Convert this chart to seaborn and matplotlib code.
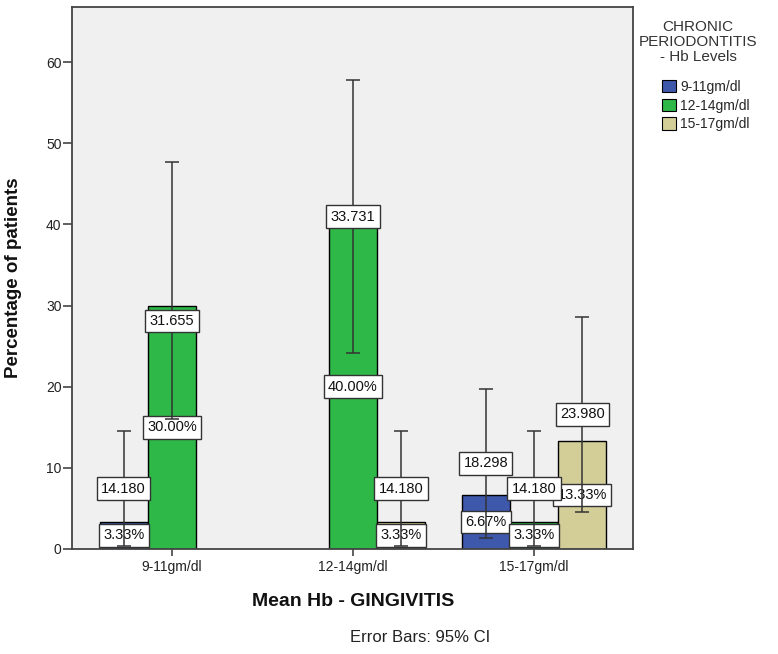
import pandas as pd
import matplotlib
matplotlib.use("Agg")
import matplotlib.pyplot as plt
import seaborn as sns
from matplotlib.patches import Patch

# --- data ---
levels = ["9-11gm/dl", "12-14gm/dl", "15-17gm/dl"]
gingivitis = ["9-11gm/dl", "9-11gm/dl", "12-14gm/dl", "12-14gm/dl",
              "15-17gm/dl", "15-17gm/dl", "15-17gm/dl"]
periodontitis = ["9-11gm/dl", "12-14gm/dl", "12-14gm/dl", "15-17gm/dl",
                 "9-11gm/dl", "12-14gm/dl", "15-17gm/dl"]
percent = [3.33, 30.00, 40.00, 3.33, 6.67, 3.33, 13.33]
ci_low = [0.35, 16.03, 24.10, 0.35, 1.40, 0.35, 4.62]
ci_high = [14.53, 47.68, 57.83, 14.53, 19.70, 14.53, 28.60]
ci_label = ["14.180", "31.655", "33.731", "14.180", "18.298", "14.180", "23.980"]

colors = ["#3E58AC", "#2EB848", "#D3CE98"]

sns.set_style("white")
plt.rcParams['font.family'] = ['Liberation Sans', 'DejaVu Sans']

df = pd.DataFrame({"gingivitis": gingivitis, "periodontitis": periodontitis,
                   "percent": percent, "low": ci_low, "high": ci_high,
                   "label": ci_label})

fig = plt.figure(figsize=(7.78, 6.54), dpi=100)
ax = fig.add_axes([72 / 778, 1 - 549 / 654, 561 / 778, 542 / 654])
ax.set_facecolor("#F0F0F0")

sns.barplot(data=df, x="gingivitis", y="percent", hue="periodontitis",
            order=levels, hue_order=levels, palette=colors, saturation=1,
            errorbar=None, width=0.8, edgecolor="black", linewidth=1,
            legend=False, ax=ax, zorder=2)

box_kw = dict(boxstyle="square,pad=0.3", facecolor="white", edgecolor="#333333", linewidth=1)

# bars of each hue level come in category order
for hue, cont in zip(levels, ax.containers):
    sub = df[df["periodontitis"] == hue].copy()
    sub["pos"] = sub["gingivitis"].map(levels.index)
    sub = sub.sort_values("pos")
    for bar, (_, row) in zip(cont, sub.iterrows()):
        xc = bar.get_x() + bar.get_width() / 2
        h = bar.get_height()
        ax.text(xc, h / 2, f"{row['percent']:.2f}%", ha="center", va="center",
                fontsize=10.5, color="#111111", bbox=box_kw, zorder=3)
        ax.errorbar(xc, h, yerr=[[h - row["low"]], [row["high"] - h]], fmt="none",
                    ecolor="#333333", elinewidth=1.1, capsize=4.7, capthick=1.1, zorder=4)
        # SPSS nudged the label that would sit on the 30% bar top just below it
        ymid = (row["low"] + row["high"]) / 2
        if abs(ymid - h) < 2.5 and h < 35:
            ymid = h - 1.9
        ax.text(xc, ymid, row["label"], ha="center",
                va="center", fontsize=10.5, color="#111111", bbox=box_kw, zorder=5)

ax.set_xlim(-0.552, 2.547)
ax.set_ylim(0, 66.8)
ax.set_yticks([0, 10, 20, 30, 40, 50, 60])
ax.tick_params(axis="y", length=6.5, width=1.2, color="#444444", labelsize=10,
               labelcolor="#222222", pad=1, left=True)
ax.tick_params(axis="x", length=5, width=1.2, color="#444444", labelsize=10,
               labelcolor="#222222", pad=3, bottom=True)
for s in ax.spines.values():
    s.set_visible(True)
    s.set_color("#444444")
    s.set_linewidth(1.3)

ax.set_xlabel("")
ax.set_ylabel("Percentage of patients", fontsize=13.5, fontweight="bold", color="#111111")
ax.yaxis.set_label_coords(-0.089, 0.5)

fig.text(353 / 778, 1 - 602 / 654, "Mean Hb - GINGIVITIS", ha="center", va="center",
         fontsize=14, fontweight="bold", color="#111111")
fig.text(420 / 778, 1 - 638 / 654, "Error Bars: 95% CI", ha="center", va="center",
         fontsize=12, color="#222222")

# legend
fig.text(698 / 778, 1 - 42 / 654, "CHRONIC\nPERIODONTITIS\n- Hb Levels", ha="center",
         va="center", multialignment="center", linespacing=1.05, fontsize=11,
         color="#333333")
handles = [Patch(facecolor=c, edgecolor="black", linewidth=0.8) for c in colors]
fig.legend(handles, levels, loc="upper left", bbox_to_anchor=(662 / 778, 1 - 80 / 654),
           frameon=False, borderpad=0, borderaxespad=0, handlelength=1, handleheight=1,
           handletextpad=0.3, labelspacing=0.33, fontsize=10)

fig.savefig("out.png", dpi=100)
